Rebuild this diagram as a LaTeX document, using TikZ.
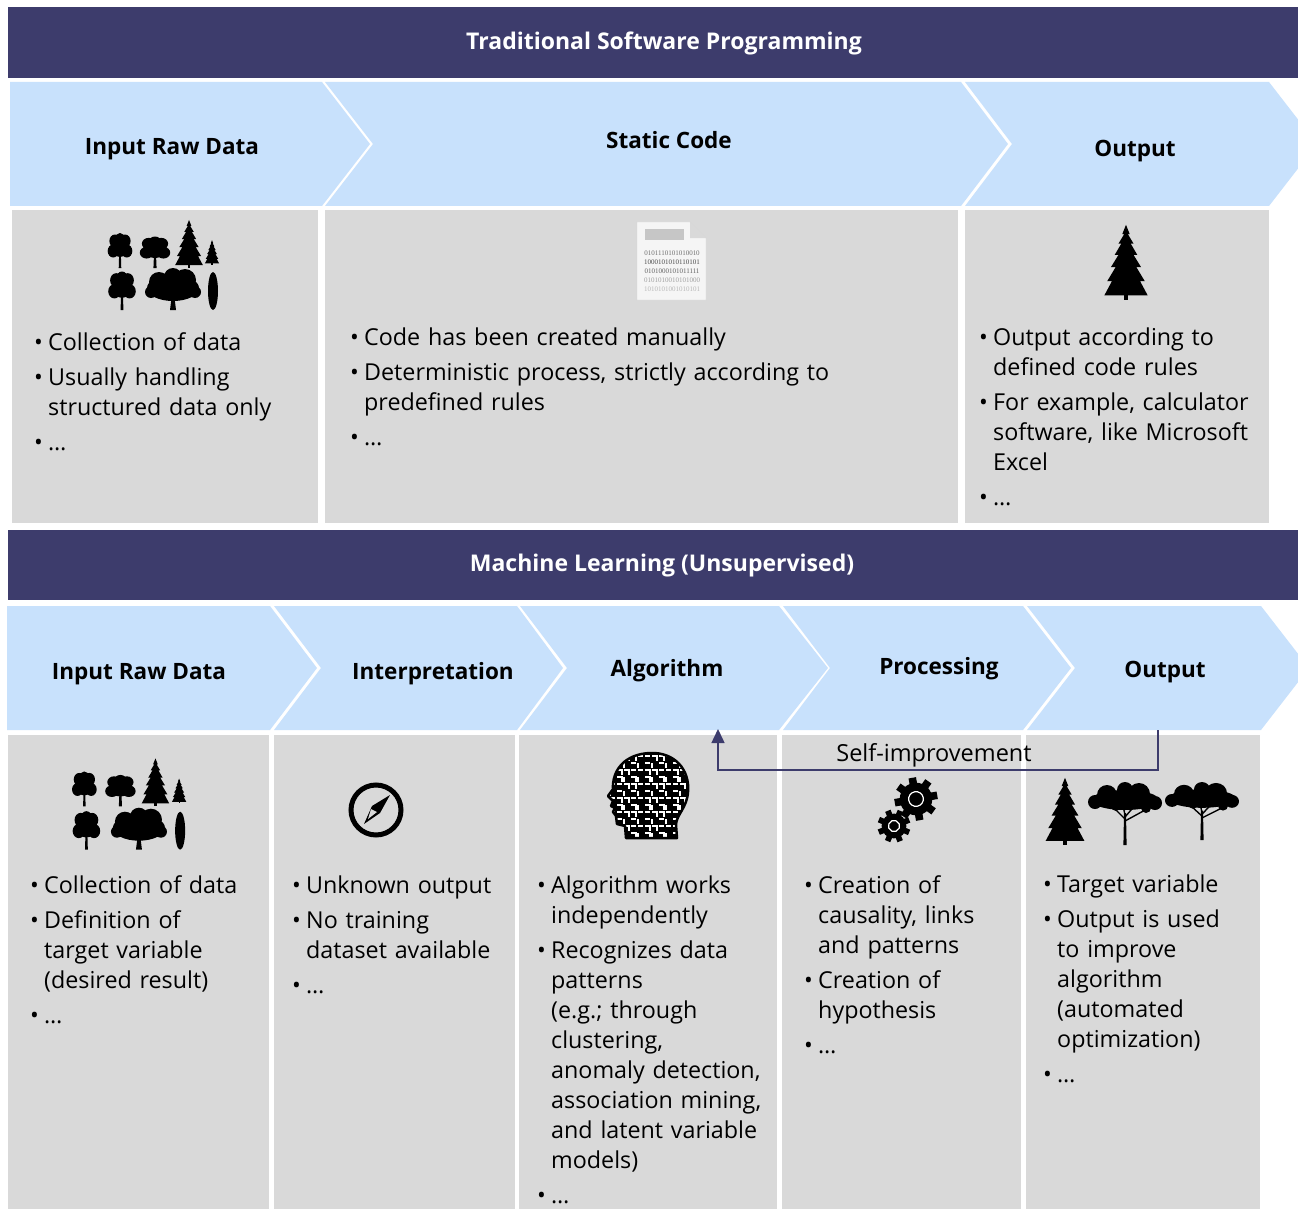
\documentclass[tikz,border=0pt]{standalone}
\usepackage{fontspec}
\setmainfont{Open Sans}
\newfontfamily\digitfont{Liberation Serif}
\usetikzlibrary{positioning,calc,arrows.meta}
\tikzset{>={Triangle[length=14pt,width=13pt]}}

\definecolor{banner}{HTML}{3D3C6C}
\definecolor{chevron}{HTML}{C8E1FC}
\definecolor{panel}{HTML}{D9D9D9}

% one bullet item, hanging indent for the wrapped lines
\newcommand\bul[1]{\par\hangindent=14pt\hangafter=1\noindent\makebox[14pt][l]{•}\strut#1}
\newcommand\nl{\newline}

\tikzset{
  bannerbox/.style={fill=banner},
  title/.style={text=white,font=\fontsize{23}{27}\selectfont\bfseries},
  head/.style={font=\fontsize{22.5}{26}\selectfont\bfseries},
  chev/.style={fill=chevron},
  panelbox/.style={fill=panel},
  bullets/.style={anchor=north west,inner sep=0pt,align=left,text width=#1,
    font=\fontsize{23.3}{30}\selectfont\setlength{\parskip}{5pt}},
  maze/.style={white,line width=2.2pt,line cap=square},
  feedback/.style={banner,line width=1.5pt},
  % tree silhouettes, base of the trunk at the origin
  conifer/.pic={
    \fill (-2,0) rectangle (2,-6);
    \fill (0,-80) -- (-4,-70) -- (-2,-70) -- (-8,-60) -- (-5,-60) -- (-12,-48) -- (-8,-48)
      -- (-16,-35) -- (-11,-35) -- (-20,-20) -- (-15,-20) -- (-23,-5) -- (23,-5) -- (15,-20)
      -- (20,-20) -- (11,-35) -- (16,-35) -- (8,-48) -- (12,-48) -- (5,-60) -- (8,-60)
      -- (2,-70) -- (4,-70) -- cycle;
  },
  roundtree/.pic={
    \fill (-1.5,0) -- (-1,-14) -- (1,-14) -- (1.5,0) -- cycle;
    \fill (0,-21) circle (10) (-8,-17) circle (6.5) (8,-17) circle (6.5)
      (-6,-27) circle (6.5) (6,-27) circle (6.5) (0,-29) circle (6);
  },
  oak/.pic={
    \fill (-3,0) -- (-1.5,-12) -- (1.5,-12) -- (3,0) -- cycle;
    \fill (0,-22) ellipse [x radius=26,y radius=13] (-14,-28) circle (10) (12,-30) circle (11)
      (0,-33) circle (9) (-22,-18) circle (6) (22,-18) circle (6);
  },
  cypress/.pic={
    \fill (0,-19) ellipse [x radius=5,y radius=19];
  },
  acacia/.pic={
    \fill (-1.6,0) -- (-1,-32) -- (1,-32) -- (1.6,0) -- cycle;
    \draw[line width=1.4pt] (0,-26) -- (-14,-40) (0,-28) -- (12,-42) (0,-30) -- (-3,-44)
      (0,-24) -- (22,-36);
    \fill (0,-45) ellipse [x radius=34,y radius=10] (-18,-50) circle (10) (14,-51) circle (11)
      (0,-55) circle (8) (-30,-43) circle (7) (30,-42) circle (7) (-9,-39) circle (5)
      (21,-37) circle (5);
  },
  forest/.pic={
    \pic[xscale=.85] at (12,48) {roundtree};
    \pic[xscale=1.05,yscale=.9] at (47,48) {roundtree};
    \pic[scale=.6] at (81,48) {conifer};
    \pic[scale=.31] at (104,45) {conifer};
    \pic[xscale=.95,yscale=1.1] at (14,90) {roundtree};
    \pic at (65,90) {oak};
    \pic at (105,90) {cypress};
  },
  gear/.pic={
    \fill (0,0) circle (15.5);
    \foreach \a in {0,45,...,315}
      \fill[rotate=\a] (-3.6,0) rectangle (3.6,20.5);
    \draw[white,line width=1.2pt] (0,0) circle (7);
  }
}

\begin{document}
\begin{tikzpicture}[x=1pt,y=-1pt]
\useasboundingbox (0,0) rectangle (1298,1209);
\fill[white] (0,0) rectangle (1298,1209);

% Traditional programming: banner, chevrons, panels
\fill[bannerbox] (8,7) rectangle (1298,78);
\node[title] (t1) at (664,43) {Traditional Software Programming};

\fill[chev] (10,82) -- (322,82) -- (370,144) -- (322,206) -- (10,206) -- cycle;
\fill[chev] (325,82) -- (961,82) -- (1008,144) -- (961,206) -- (325,206) -- (373,144) -- cycle;
\fill[chev] (965,82) -- (1269,82) -- (1317,144) -- (1269,206) -- (965,206) -- (1012,144) -- cycle;
\node[head] (h1in) at (172,149) {Input Raw Data};
\node[head] (h1code) at (669,140) {Static Code};
\node[head] (h1out) at (1135,151) {Output};

\fill[panelbox] (12,210) rectangle (318,523);
\fill[panelbox] (325,210) rectangle (958,523);
\fill[panelbox] (965,210) rectangle (1269,523);

% Machine learning: banner, chevrons, panels
\fill[bannerbox] (8,530) rectangle (1298,600);
\node[title] (t2) at (662,566) {Machine Learning (Unsupervised)};

\fill[chev] (7,606) -- (270,606) -- (317,668) -- (270,730) -- (7,730) -- cycle;
\fill[chev] (274,606) -- (517,606) -- (563,668) -- (517,730) -- (274,730) -- (321,668) -- cycle;
\fill[chev] (520,606) -- (779,606) -- (828,668) -- (779,730) -- (520,730) -- (567,668) -- cycle;
\fill[chev] (783,606) -- (1023,606) -- (1071,668) -- (1023,730) -- (783,730) -- (830,668) -- cycle;
\fill[chev] (1027,606) -- (1261,606) -- (1309,668) -- (1261,730) -- (1027,730) -- (1075,668) -- cycle;
\node[head] (h2in) at (139,674) {Input Raw Data};
\node[head] (h2int) at (433,674) {Interpretation};
\node[head] (h2alg) at (667,671) {Algorithm};
\node[head] (h2proc) at (939,669) {Processing};
\node[head] (h2out) at (1165,672) {Output};

\fill[panelbox] (8,735) rectangle (269,1209);
\fill[panelbox] (274,735) rectangle (515,1209);
\fill[panelbox] (519,735) rectangle (777,1209);
\fill[panelbox] (782,735) rectangle (1021,1209);
\fill[panelbox] (1026,735) rectangle (1260,1209);

% Icons, top row
\pic at (108,220) {forest};
\pic[scale=.94] at (1126,300) {conifer};

% code sheet with a folded corner
\fill[gray!8,draw=gray!35] (637,222) -- (690,222) -- (706,238) -- (706,300) -- (637,300) -- cycle;
\fill[gray!30] (690,222) -- (690,238) -- (706,238) -- cycle;
\fill[gray!45] (645,229) rectangle (684,240);
\foreach \row/\bits/\op in {0/0101110101010010/.55,1/1000101010110101/.7,
    2/0101000101011111/.6,3/0101010010101000/.35,4/1010101001010101/.25}
  \node[text=black,opacity=\op,font=\digitfont\fontsize{7}{8}\selectfont,inner sep=0pt]
    (bits\row) at (672,{253+9*\row}) {\bits};

% Icons, bottom row
\pic[scale=1.03] at (72,757) {forest};

% compass
\draw[line width=5pt] (376,810) circle (25);
\fill (390,795) -- (372,806) -- (364,824) -- (380,813) -- cycle;
\fill[panel] (371,809) -- (368,819) -- (377,812) -- cycle;

% head with a maze inside
\def\headpath{(626,838) -- (625,826) -- (617,824) -- (616,816) -- (613,812) -- (615,808)
  -- (611,806) -- (613,801) -- (608,796) -- (613,789) .. controls (612,770) and (625,754) .. (650,753)
  .. controls (675,752) and (690,770) .. (688,792) .. controls (687,808) and (676,815) .. (676,825)
  -- (677,838) -- cycle}
\fill \headpath;
\begin{scope}
  \clip \headpath;
  \foreach \i in {0,...,11}{
    \foreach \j in {0,...,12}{
      \pgfmathtruncatemacro\k{mod(\i*\i*3+\j*\j*5+\i*\j*7+\i,4)}
      \coordinate (m) at ({610+7*\i},{756+7*\j});
      \ifcase\k
        \draw[maze] (m) -- ++(5,0);
      \or
        \draw[maze] (m) -- ++(0,5);
      \or
        \draw[maze] (m) -- ++(5,0) -- ++(0,5);
      \or
        \draw[maze] (m) -- ++(0,5) -- ++(5,0);
      \fi
    }
  }
\end{scope}
\draw[line width=2.5pt,line join=round] \headpath;

% gears
\pic[scale=1.05,rotate=10] at (916,799) {gear};
\pic[scale=.8,rotate=22] at (894,826) {gear};

% output trees
\pic[scale=.84] at (1065,845) {conifer};
\pic at (1125,845) {acacia};
\pic[yscale=.92] at (1202,840) {acacia};

% Self-improvement loop back to the algorithm
\coordinate (fb-from) at (1158,730);
\coordinate (fb-to) at (718,729);
\draw[feedback,->] (fb-from) -- ++(0,40) -| (fb-to);
\node[font=\fontsize{23.5}{26}\selectfont] (selfimp) at (934,755) {Self-improvement};

% Bullet texts, top row
\node[bullets=280pt] (b1in) at (34,315) {\bul{Collection of data}\bul{Usually handling\nl structured data only}\bul{…}};
\node[bullets=600pt] (b1code) at (350,310) {\bul{Code has been created manually}\bul{Deterministic process, strictly according to\nl predefined rules}\bul{…}};
\node[bullets=300pt] (b1out) at (979,310) {\bul{Output according to\nl defined code rules}\bul{For example, calculator\nl software, like Microsoft\nl Excel}\bul{…}};

% Bullet texts, bottom row
\node[bullets=240pt] (b2in) at (30,858) {\bul{Collection of data}\bul{Definition of\nl target variable\nl (desired result)}\bul{…}};
\node[bullets=230pt] (b2int) at (292,858) {\bul{Unknown output}\bul{No training\nl dataset available}\bul{…}};
\node[bullets=240pt] (b2alg) at (537,858) {\bul{Algorithm works\nl independently}\bul{Recognizes data\nl patterns\nl (e.g.; through\nl clustering,\nl anomaly detection,\nl association mining,\nl and latent variable\nl models)}\bul{…}};
\node[bullets=230pt] (b2proc) at (804,858) {\bul{Creation of\nl causality, links\nl and patterns}\bul{Creation of\nl hypothesis}\bul{…}};
\node[bullets=230pt] (b2out) at (1043,857) {\bul{Target variable}\bul{Output is used\nl to improve\nl algorithm\nl (automated\nl optimization)}\bul{…}};

\end{tikzpicture}
\end{document}
